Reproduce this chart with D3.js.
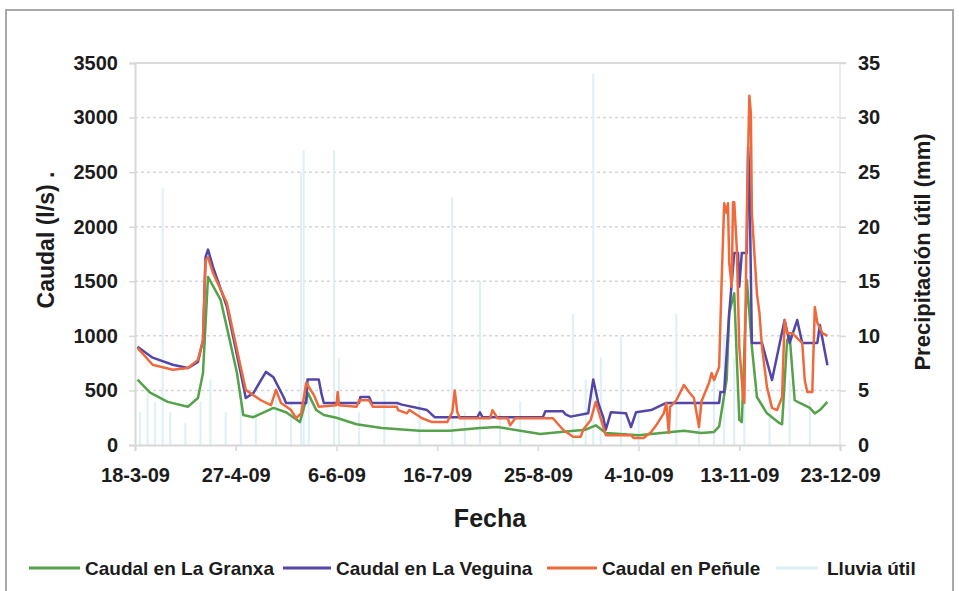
<!DOCTYPE html>
<html>
<head>
<meta charset="utf-8">
<script src="https://cdn.jsdelivr.net/npm/d3@7"></script>
<style>
  body { margin: 0; background: #fff; }
  svg { display: block; }
  text { font-family: "Liberation Sans", Arial, sans-serif; fill: #1c1c1c; }
</style>
</head>
<body>
<svg id="chart" width="959" height="591"></svg>
<script>
// days counted from 18-3-2009
const startDate = new Date(2009, 2, 18);
const tickDays = [0, 40, 80, 120, 160, 200, 240, 280];
const caudalTicks = [0, 500, 1000, 1500, 2000, 2500, 3000, 3500];
const lluviaTicks = [0, 5, 10, 15, 20, 25, 30, 35];

// [day, caudal l/s]
const granxa = [[1,600],[6,480],[13,395],[21,350],[25,430],[27,660],[29,1540],[34,1330],[37,1025],[40.5,660],[43,275],
  [47,255],[55,340],[60,300],[65.5,210],[68.7,475],[72,320],[75,275],[80,250],[88,190],[98,155],[113,130],[125,130],
  [137,155],[144,165],[161,100],[169,120],[179,140],[183,180],[187,110],[200,90],[218,130],[225,110],[230,120],
  [232,170],[235,600],[236,1210],[238,1390],[239,800],[240,230],[241,210],[243,1510],[245,900],[247,440],[251,290],
  [256,200],[257,190],[259,960],[260,1000],[262,410],[264,385],[268,340],[270,290],[272,320],[275,395]];

const veguina = [[1,900],[7,800],[15,735],[21,705],[25,760],[27,960],[28,1720],[29,1790],[31,1630],[36.5,1265],[42,660],
  [44,430],[47,475],[52,670],[55,620],[59,440],[60,385],[68,385],[68.5,600],[73,600],[74,475],[75,385],[89,385],
  [89.5,440],[93,440],[94,385],[104,385],[106,370],[116,320],[119,255],[136,255],[137,300],[138,255],[162,255],
  [163,310],[170,310],[171,280],[173,260],[180,290],[181,450],[182,600],[184,385],[186,250],[187,140],[189,300],
  [195,290],[197,165],[199,300],[205,320],[211,385],[232,385],[232.5,485],[234,485],[236,1210],[238,1760],
  [239.5,1760],[240,1450],[241,1760],[243,1760],[243.5,2730],[244,2490],[245,935],[249,935],[253,595],[258,1145],
  [260,935],[263,1145],[265,935],[271,935],[272,1100],[275,730]];

const penule = [[1,890],[7,735],[15,690],[21,705],[25,780],[27,960],[28,1690],[29,1720],[31,1575],[36.5,1300],[42,715],
  [44,505],[50,410],[54,365],[56,505],[58,385],[62,320],[64,245],[66,290],[68,570],[71,460],[73,350],[80,365],
  [80.5,485],[81,365],[88,350],[89,410],[93,410],[94.5,350],[104,350],[104.5,320],[108,290],[109,320],[114,245],
  [118,210],[124,210],[126,300],[127,500],[128,300],[129,245],[141,245],[142,320],[144,245],[148,245],[149,180],
  [151,245],[166,245],[170,140],[174,75],[177,75],[178,140],[181,230],[183,395],[185,240],[187,90],[197,90],
  [198,65],[202,65],[205,120],[207,180],[210,290],[211,385],[212,110],[212.5,350],[215,410],[218,550],[220,485],
  [222,430],[224,165],[225,400],[228,570],[229,660],[230,595],[232,715],[233,1510],[234,2215],[235,2125],
  [235.5,2215],[236,1670],[237,1450],[237.5,2225],[238,2225],[239,1810],[240,900],[241.5,440],[242,385],[243,2125],
  [244,3200],[244.6,3040],[245,2125],[247,1390],[248,1210],[249,900],[251,530],[253,340],[255,320],[257,440],
  [258,1145],[259,1025],[261,1025],[263,980],[265,935],[266,595],[267,485],[269,485],[270,1265],[271,1120],
  [273,1025],[275,1000]];

// [day, mm]
const lluvia = [[2,3],[5,5],[8,4],[11,23.5],[14,3],[20,2],[26,4],[30,6],[36,3],[42,4],[48,3],[56,5],[62,4],[66,25],
  [67,27],[69,6],[79,27],[81,8],[89,3],[99,5],[113,4],[126,22.7],[131,3],[137,15],[145,3],[153,4],[174,12],[179,6],
  [182,34],[185,8],[193,10],[200,3],[215,12],[224,4],[230,6],[234,10],[238,8],[242,12],[252,5],[260,6],[268,4]];

const seriesNames = ['Caudal en La Granxa', 'Caudal en La Veguina', 'Caudal en Peñule', 'Lluvia útil'];
const colors = ['#56a24a', '#5446a6', '#ee6a3c', '#dcf0f6'];

const svg = d3.select('#chart');
const margin = { left: 135, right: 840, top: 63, bottom: 445 };
const day = d => startDate.getTime() + d * 864e5;

const x = d3.scaleTime()
  .domain([startDate, d3.timeDay.offset(startDate, 280)])
  .range([margin.left, margin.right]);
const y = d3.scaleLinear().domain([0, 3500]).range([margin.bottom, margin.top]);
const yR = d3.scaleLinear().domain([0, 35]).range([margin.bottom, margin.top]);

// outer frame
svg.append('rect').attr('x', 6).attr('y', 10).attr('width', 947).attr('height', 600)
  .attr('fill', '#fff').attr('stroke', '#a8a8a8').attr('stroke-width', 2);

// grid
svg.append('g').selectAll('line').data(caudalTicks.filter(t => t > 0 && t < 3500)).enter()
  .append('line')
  .attr('x1', margin.left).attr('x2', margin.right)
  .attr('y1', d => y(d)).attr('y2', d => y(d))
  .attr('stroke', '#d6d6d6').attr('stroke-width', 1.5).attr('stroke-dasharray', '3,3');
svg.append('line').attr('x1', margin.left).attr('x2', margin.right + 6)
  .attr('y1', y(3500)).attr('y2', y(3500)).attr('stroke', '#dcdcdc').attr('stroke-width', 2);
svg.append('line').attr('x1', margin.right).attr('x2', margin.right)
  .attr('y1', margin.top).attr('y2', margin.bottom).attr('stroke', '#e6e6e6').attr('stroke-width', 1.5);

// rain bars
svg.append('g').selectAll('rect').data(lluvia).enter()
  .append('rect')
  .attr('x', d => x(day(d[0])) - 1)
  .attr('y', d => yR(d[1]))
  .attr('width', 2)
  .attr('height', d => yR(0) - yR(d[1]))
  .attr('fill', colors[3]);

// axes
const fmt = d3.timeFormat('%-d-%-m-%y');
const xAxis = d3.axisBottom(x)
  .tickValues(tickDays.map(d => d3.timeDay.offset(startDate, d)))
  .tickFormat(fmt).tickSize(6).tickPadding(17);
const gx = svg.append('g').attr('transform', `translate(0,${margin.bottom})`).call(xAxis);
const gy = svg.append('g').attr('transform', `translate(${margin.left},0)`)
  .call(d3.axisLeft(y).tickValues(caudalTicks).tickFormat(d3.format('d')).tickSize(6).tickPadding(11));
const gyR = svg.append('g').attr('transform', `translate(${margin.right},0)`)
  .call(d3.axisRight(yR).tickValues(lluviaTicks).tickSize(6).tickPadding(12));
[gx, gy, gyR].forEach(g => {
  g.select('.domain').attr('stroke', '#d8d8d8').attr('stroke-width', 2);
  g.selectAll('.tick line').attr('stroke', '#d8d8d8').attr('stroke-width', 1.5);
  g.selectAll('text').style('font-size', '20px').style('font-weight', 'bold').attr('fill', '#1c1c1c');
});
gyR.select('.domain').remove();

// flow lines
const line = d3.line().x(d => x(day(d[0]))).y(d => y(d[1]));
[granxa, veguina, penule].forEach((s, i) => {
  svg.append('path').datum(s)
    .attr('fill', 'none').attr('stroke', colors[i])
    .attr('stroke-width', 2.5).attr('stroke-linejoin', 'round')
    .attr('d', line);
});

// titles
svg.append('text').attr('transform', 'translate(54,240) rotate(-90)')
  .attr('text-anchor', 'middle').style('font-size', '23px').style('font-weight', 'bold')
  .text('Caudal (l/s) .');
svg.append('text').attr('transform', 'translate(930,252) rotate(-90)')
  .attr('text-anchor', 'middle').style('font-size', '22px').style('font-weight', 'bold')
  .text('Precipitación útil (mm)');
svg.append('text').attr('x', 490).attr('y', 527)
  .attr('text-anchor', 'middle').style('font-size', '25px').style('font-weight', 'bold')
  .text('Fecha');

// legend
const legendX = [29, 283, 547, 776];
const swatchLen = [51, 48, 50, 42];
const legend = svg.append('g').selectAll('g').data(seriesNames).enter()
  .append('g').attr('transform', (d, i) => `translate(${legendX[i]},568)`);
legend.append('line').attr('x1', 0).attr('x2', (d, i) => swatchLen[i])
  .attr('stroke', (d, i) => colors[i]).attr('stroke-width', 3);
legend.append('text').attr('x', (d, i) => swatchLen[i] + 5 + (i == 3 ? 4 : 0)).attr('dy', '0.35em')
  .style('font-size', '19px').style('font-weight', 'bold')
  .text(d => d);
</script>
</body>
</html>
